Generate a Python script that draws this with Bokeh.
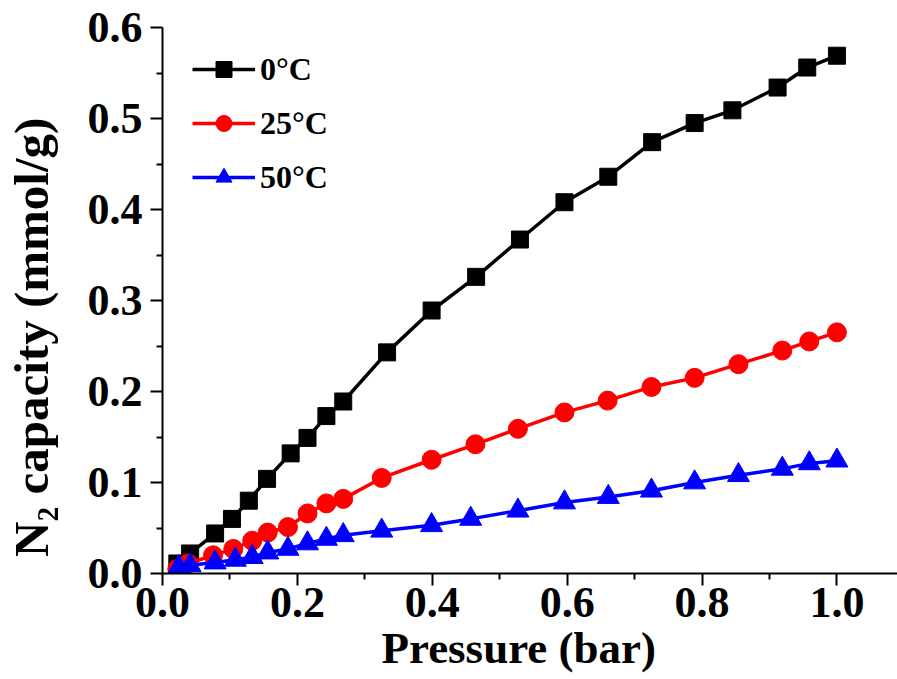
from bokeh.plotting import figure
from bokeh.models import Range1d, FixedTicker, PrintfTickFormatter, Legend
from bokeh.embed import file_html
from bokeh.resources import INLINE

# ---- data ----
x_0C = [0.022, 0.041, 0.078, 0.103, 0.128, 0.155, 0.190, 0.215, 0.243, 0.268, 0.333,
        0.399, 0.465, 0.530, 0.596, 0.661, 0.726, 0.789, 0.845, 0.912, 0.956, 1.000]
y_0C = [0.011, 0.022, 0.044, 0.060, 0.080, 0.104, 0.132, 0.149, 0.173, 0.189, 0.243,
        0.289, 0.326, 0.367, 0.408, 0.436, 0.474, 0.495, 0.509, 0.534, 0.556, 0.569]

x_25C = [0.022, 0.038, 0.075, 0.105, 0.133, 0.156, 0.186, 0.215, 0.243, 0.268, 0.325,
         0.399, 0.464, 0.527, 0.596, 0.660, 0.725, 0.789, 0.854, 0.919, 0.959, 1.000]
y_25C = [0.005, 0.011, 0.020, 0.027, 0.036, 0.045, 0.051, 0.066, 0.077, 0.082, 0.105,
         0.125, 0.142, 0.159, 0.177, 0.190, 0.205, 0.215, 0.230, 0.245, 0.255, 0.265]

x_50C = [0.024, 0.041, 0.078, 0.108, 0.133, 0.156, 0.186, 0.215, 0.243, 0.268, 0.325,
         0.399, 0.457, 0.527, 0.596, 0.661, 0.725, 0.789, 0.854, 0.919, 0.959, 1.000]
y_50C = [0.007, 0.009, 0.012, 0.015, 0.018, 0.023, 0.027, 0.033, 0.038, 0.042, 0.047,
         0.053, 0.060, 0.069, 0.078, 0.084, 0.091, 0.100, 0.108, 0.115, 0.121, 0.124]

series_labels = ["0°C", "25°C", "50°C"]
x_ticks = [0.0, 0.2, 0.4, 0.6, 0.8, 1.0]
x_minor = [0.1, 0.3, 0.5, 0.7, 0.9]
y_ticks = [0.0, 0.1, 0.2, 0.3, 0.4, 0.5, 0.6]
y_minor = [0.05, 0.15, 0.25, 0.35, 0.45, 0.55]
x_title = "Pressure (bar)"
y_title = "N\u2082 capacity (mmol/g)"

FONT = "Liberation Serif"
PAD = "\u2002"  # en-space used to nudge the centred titles

p = figure(width=897, height=679, output_backend="svg", toolbar_location=None,
           x_range=Range1d(0, 1.0898), y_range=Range1d(0, 0.6))
p.min_border_left = 157
p.min_border_right = 0
p.min_border_top = 27
p.min_border_bottom = 106
p.outline_line_color = None
p.xgrid.visible = False
p.ygrid.visible = False
p.background_fill_color = "white"
p.border_fill_color = "white"

p.xaxis.ticker = FixedTicker(ticks=x_ticks, minor_ticks=x_minor)
p.yaxis.ticker = FixedTicker(ticks=y_ticks, minor_ticks=y_minor)
p.xaxis.formatter = PrintfTickFormatter(format="%.1f")
p.yaxis.formatter = PrintfTickFormatter(format="%.1f")

for ax in (p.xaxis, p.yaxis):
    ax.axis_line_width = 2
    ax.axis_line_color = "black"
    ax.major_tick_line_width = 2
    ax.minor_tick_line_width = 2
    ax.major_tick_line_color = "black"
    ax.minor_tick_line_color = "black"
    ax.major_tick_in = 0
    ax.major_tick_out = 12
    ax.minor_tick_in = 0
    ax.minor_tick_out = 6
    ax.major_label_text_font = FONT
    ax.major_label_text_font_style = "bold"
    ax.major_label_text_font_size = "44px"
    ax.major_label_text_color = "black"
    ax.axis_label_text_font = FONT
    ax.axis_label_text_font_style = "bold"
    ax.axis_label_text_color = "black"

p.xaxis.axis_label = x_title + PAD
p.xaxis.axis_label_text_font_size = "45px"
p.yaxis.axis_label = y_title + PAD * 3
p.yaxis.axis_label_text_font_size = "49px"
p.xaxis.major_label_standoff = 2
p.xaxis.axis_label_standoff = 3
p.yaxis.major_label_standoff = 8
p.yaxis.axis_label_standoff = 26

colors = ["black", "red", "blue"]
markers = ["square", "circle", "triangle"]
sizes = [17, 19, 22]
xs = [x_0C, x_25C, x_50C]
ys = [y_0C, y_25C, y_50C]

items = []
for xv, yv, c, m, s, lab in zip(xs, ys, colors, markers, sizes, series_labels):
    r1 = p.line(xv, yv, line_color=c, line_width=3.5)
    r2 = p.scatter(xv, yv, marker=m, size=s, fill_color=c, line_color=c)
    items.append((lab, [r1, r2]))

legend = Legend(items=items, location=(30, 376))
legend.label_text_font = FONT
legend.label_text_font_style = "bold"
legend.label_text_font_size = "32px"
legend.label_text_color = "black"
legend.glyph_width = 63
legend.glyph_height = 40
legend.label_height = 40
legend.spacing = 14
legend.padding = 0
legend.margin = 0
legend.label_standoff = 5
legend.border_line_alpha = 0
legend.background_fill_alpha = 0
p.add_layout(legend)

open("out.html", "w").write(file_html(p, INLINE))
